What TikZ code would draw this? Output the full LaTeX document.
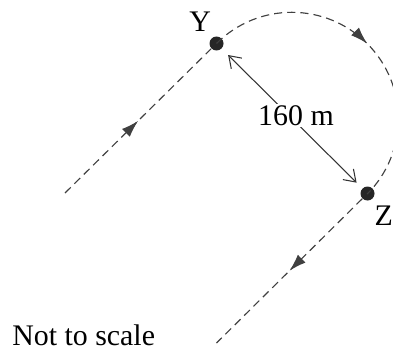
\documentclass[tikz,border=0pt]{standalone}
\usepackage{fontspec}
\setmainfont{Liberation Serif}
\usepackage{tikz}
\usetikzlibrary{arrows.meta,positioning,decorations.markings}

\begin{document}
\begin{tikzpicture}[
  dot/.style={circle,fill=black!85,inner sep=0pt,minimum size=0.28cm},
  lab/.style={inner sep=0pt,font=\fontsize{17}{20}\selectfont},
  track/.style={draw=black!75,line width=0.65pt,dash pattern=on 4.6pt off 2.9pt,
    postaction={decorate},
    decoration={markings,mark=at position 0.5 with
      {\arrow{Latex[length=0.34cm,width=0.22cm]}}}},
  dim/.style={draw=black!80,line width=0.6pt,
    {Straight Barb[length=0.22cm,width=0.3cm]}-{Straight Barb[length=0.22cm,width=0.3cm]}}
]
\useasboundingbox (0,0) rectangle (7.86,6.98);
\node[dot] (Y) at (4.33, 6.11) {};
\node[dot] (Z) at (7.35, 3.11) {};
\coordinate (start)  at (1.30, 3.12);
\coordinate (finish) at (4.33, 0.12);
\node[lab,above left=0.12cm and 0cm of Y] (ylab) {Y};
\node[lab,below right=0.14cm and 0.03cm of Z] (zlab) {Z};
\node[lab,anchor=base west] (note) at (0.24, 0.08) {Not to scale};
\draw[track] (start) -- (Y);
\draw[track] (Y.center) arc[start angle=135,end angle=-45,radius=2.13];
\draw[track] (Z) -- (finish);
\draw[dim,shorten <=0.18cm,shorten >=0.16cm] (Y) -- (Z)
  node[lab,midway,fill=white,inner sep=1pt,xshift=0.08cm,yshift=0.06cm] (dist) {160 m};
\end{tikzpicture}
\end{document}
